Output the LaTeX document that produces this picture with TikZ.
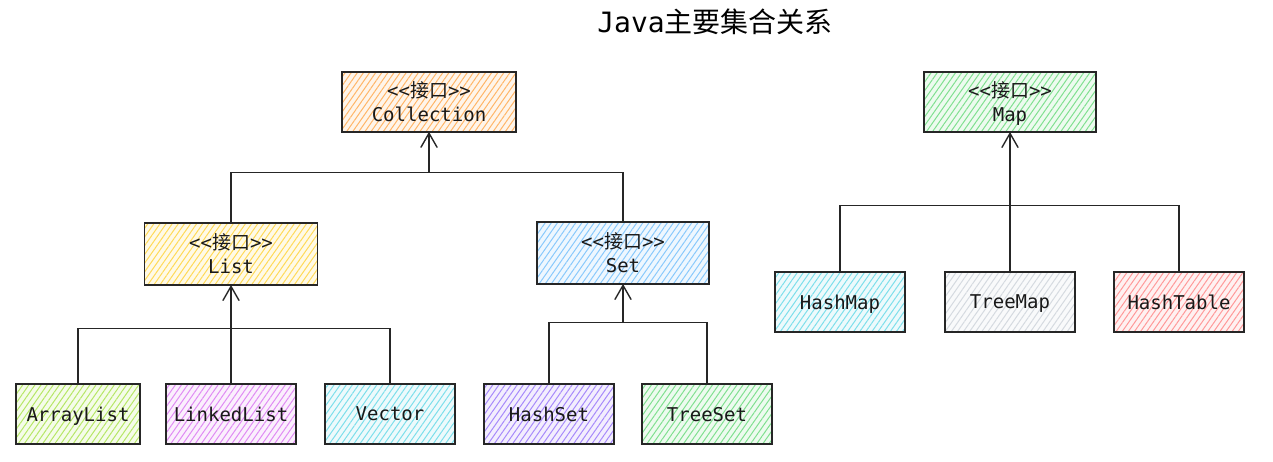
\documentclass[tikz,border=0pt]{standalone}
\usepackage{fontspec}
\setmonofont{DejaVu Sans Mono}
\newfontfamily\cjk{Noto Sans CJK SC}
\usepackage{xcolor}
\usetikzlibrary{positioning,arrows.meta,patterns.meta}
\definecolor{orangeC}{HTML}{FFA94D}
\definecolor{greenC}{HTML}{69DB7C}
\definecolor{yellowC}{HTML}{FFD43B}
\definecolor{blueC}{HTML}{74C0FC}
\definecolor{limeC}{HTML}{A9E34B}
\definecolor{grapeC}{HTML}{DA77F2}
\definecolor{cyanC}{HTML}{66D9E8}
\definecolor{violetC}{HTML}{9775FA}
\definecolor{grayC}{HTML}{CED4DA}
\definecolor{redC}{HTML}{FF8787}
\newcommand{\iface}[1]{<<{\cjk 接口}>>\\[1pt]#1}

\begin{document}
\begin{tikzpicture}[x=1pt,y=1pt,on grid,
   box/.style={rectangle, draw=black!85, line width=1.3pt, minimum width=130pt,
      minimum height=60pt, align=center, text=black!90,
      font=\ttfamily\fontsize{19}{23}\selectfont, text depth=0pt,
      preaction={fill=#1!12},
      pattern={Lines[angle=55,distance=5pt,line width=1pt]}, pattern color=#1!85},
   link/.style={draw=black!85, line width=1.4pt},
   arr/.style={link, -{Straight Barb[length=14pt,width=16pt,line width=1.4pt,round]}}]
   \useasboundingbox (0,0) rectangle (1273,-461);

   \node[font=\ttfamily\fontsize{28}{32}\selectfont] (title) at (715,-22) {Java{\cjk 主要集合关系}};

   \node[box=orangeC, minimum width=174pt] (coll) at (429,-102) {\iface{Collection}};
   \node[box=yellowC, minimum width=173pt, minimum height=62pt] (list) [below left=152pt and 198pt of coll] {\iface{List}};
   \node[box=blueC, minimum width=172pt, minimum height=62pt] (set) [below right=151pt and 194pt of coll] {\iface{Set}};

   \node[box=limeC, minimum width=124pt] (alist) [below left=160pt and 153pt of list] {ArrayList};
   \node[box=grapeC] (llist) [below=160pt of list] {LinkedList};
   \node[box=cyanC] (vec) [below right=160pt and 159pt of list] {Vector};

   \node[box=violetC] (hset) [below left=161pt and 74pt of set] {HashSet};
   \node[box=greenC] (tset) [below right=161pt and 84pt of set] {TreeSet};

   \node[box=greenC, minimum width=172pt] (map) at (1010,-102) {\iface{Map}};
   \node[box=cyanC] (hmap) [below left=200pt and 170pt of map] {HashMap};
   \node[box=grayC] (tmap) [below=200pt of map] {TreeMap};
   \node[box=redC] (htab) [below right=200pt and 169pt of map] {HashTable};

   \coordinate (collbar) at ([yshift=-40pt]coll.south);
   \coordinate (listbar) at ([yshift=-43pt]list.south);
   \coordinate (setbar) at ([yshift=-38pt]set.south);
   \coordinate (mapbar) at ([yshift=-73pt]map.south);

   \draw[link] (list.north) |- (collbar) -| (set.north);
   \draw[arr] (collbar) -- (coll.south);

   \draw[link] (alist.north) |- (listbar) -| (vec.north);
   \draw[link] (llist.north) -- (listbar);
   \draw[arr] (listbar) -- (list.south);

   \draw[link] (hset.north) |- (setbar) -| (tset.north);
   \draw[arr] (setbar) -- (set.south);

   \draw[link] (hmap.north) |- (mapbar) -| (htab.north);
   \draw[link] (tmap.north) -- (mapbar);
   \draw[arr] (mapbar) -- (map.south);
\end{tikzpicture}
\end{document}
